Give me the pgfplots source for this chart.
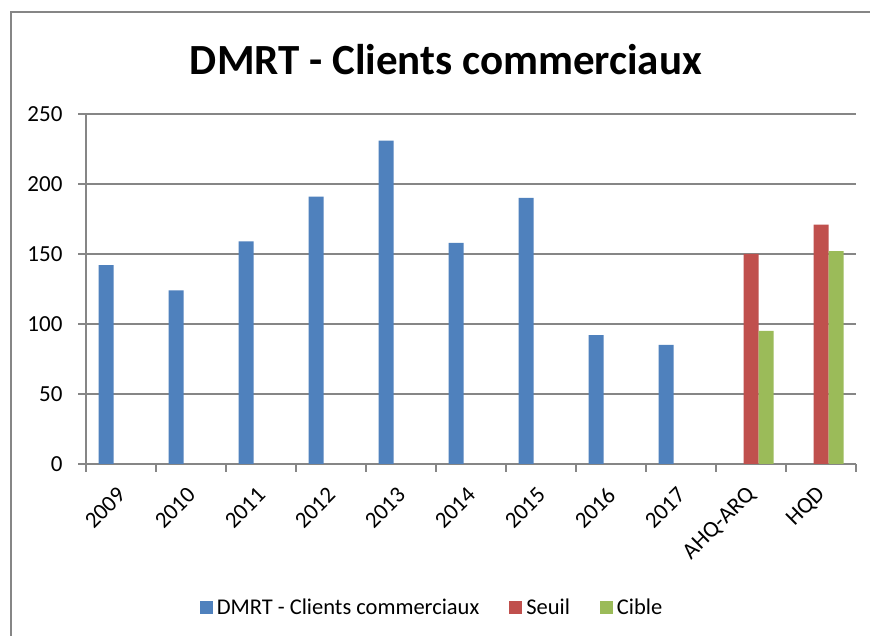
\documentclass[border=0pt]{standalone}
\usepackage{fontspec}
\setmainfont{Carlito}
\usepackage{pgfplots}
\pgfplotsset{compat=1.18}
\definecolor{cblue}{HTML}{4F81BD}
\definecolor{cred}{HTML}{C0504D}
\definecolor{cgreen}{HTML}{9BBB59}
\definecolor{cgrid}{HTML}{868686}
\begin{document}
\begin{tikzpicture}[x=1pt,y=1pt]
\fill[white] (0,0) rectangle (870,636);
\draw[cgrid, line width=2pt] (10.5,0) -- (10.5,624) -- (870,624);
\node[font=\bfseries\fontsize{43}{50}\selectfont, anchor=base] at (446,561) {DMRT - Clients commerciaux};
\begin{axis}[
  at={(86pt,172pt)}, anchor=south west,
  width=770pt, height=350pt, scale only axis,
  xmin=-0.5, xmax=10.5, ymin=0, ymax=250,
  ytick={0,50,...,250},
  xtick={-0.5,0.5,...,10.5},
  x tick label as interval,
  xticklabels={2009,2010,2011,2012,2013,2014,2015,2016,2017,AHQ-ARQ,HQD},
  xticklabel style={xshift=3pt, rotate=45, anchor=east, font=\fontsize{23}{27}\selectfont},
  xticklabel shift=17pt,
  yticklabel style={xshift=-12pt, font=\fontsize{23}{27}\selectfont},
  /pgf/number format/assume math mode=true,
  axis x line*=bottom, axis y line*=left,
  axis line style={cgrid, line width=1.3pt, -},
  ymajorgrids, grid style={cgrid, line width=1.3pt},
  tick style={cgrid, line width=1.3pt},
  tick align=outside, major tick length=8pt,
  legend columns=3,
  legend style={at={(0.4494,-0.4086)}, anchor=center, draw=none,
    font=\fontsize{22.5}{26}\selectfont,
    /tikz/every odd column/.append style={column sep=2pt},
    /tikz/every even column/.append style={column sep=28pt}},
]
\addplot[ybar, bar width=15pt, bar shift=-15pt, fill=cblue, draw=none,
  legend image code/.code={\fill[cblue] (0pt,-6.5pt) rectangle (13pt,6.5pt);}]
  coordinates {(0,142) (1,124) (2,159) (3,191) (4,231) (5,158) (6,190) (7,92) (8,85)};
\addlegendentry{DMRT - Clients commerciaux}
\addplot[ybar, bar width=15pt, bar shift=0pt, fill=cred, draw=none,
  legend image code/.code={\fill[cred] (0pt,-6.5pt) rectangle (13pt,6.5pt);}]
  coordinates {(9,150) (10,171)};
\addlegendentry{Seuil}
\addplot[ybar, bar width=15pt, bar shift=15pt, fill=cgreen, draw=none,
  legend image code/.code={\fill[cgreen] (0pt,-6.5pt) rectangle (13pt,6.5pt);}]
  coordinates {(9,95) (10,152)};
\addlegendentry{Cible}
\end{axis}
\pgfresetboundingbox
\useasboundingbox (0,0) rectangle (870,636);
\end{tikzpicture}
\end{document}
